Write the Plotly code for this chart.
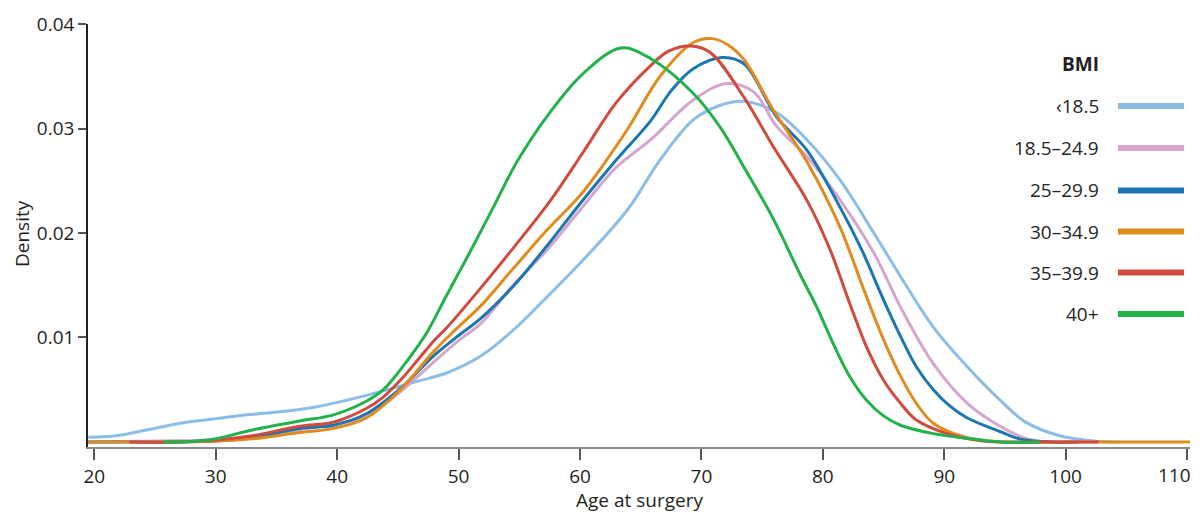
import plotly.graph_objects as go

# ---- data ----
series_names = ["‹18.5", "18.5–24.9", "25–29.9", "30–34.9", "35–39.9", "40+"]
series_colors = ["#8bbde6", "#d5a5cf", "#1a77b3", "#e08b1d", "#d04b3e", "#22b24c"]

age_lt18 = [19.5, 21.6, 24.3, 27.1, 29.8, 32.6, 35.3, 38.0, 40.8, 43.5, 46.3, 49.0, 51.8, 54.5, 57.3,
            60.0, 63.9, 66.6, 69.3, 71.5, 73.5, 76.2, 78.7, 81.4, 84.2, 86.9, 89.1, 91.9, 94.6, 96.7,
            99.5, 102.3, 104.5]
dens_lt18 = [0.00045, 0.00057, 0.00115, 0.0018, 0.0022, 0.0026, 0.0029, 0.0033, 0.0040, 0.0048, 0.0057,
             0.0066, 0.0082, 0.0107, 0.0139, 0.0171, 0.0222, 0.0270, 0.0308, 0.0322, 0.0326, 0.0315,
             0.0289, 0.0251, 0.0200, 0.0149, 0.0110, 0.0072, 0.0040, 0.0019, 0.0006, 0.0001, 0.0]

age_18_24 = [19.5, 25.0, 30.0, 33.0, 36.9, 39.7, 42.4, 45.2, 47.9, 50.1, 51.8, 54.5, 57.3, 60.0, 63.0,
             65.8, 69.3, 72.1, 74.3, 76.2, 78.7, 81.4, 84.2, 86.4, 89.1, 91.9, 94.6, 96.7, 98.5, 101.0]
dens_18_24 = [0.0, 0.0001, 0.0002, 0.0005, 0.0012, 0.0017, 0.0025, 0.0048, 0.0076, 0.0098, 0.0113,
              0.0150, 0.0184, 0.0222, 0.0263, 0.0289, 0.0327, 0.0343, 0.0335, 0.0302, 0.0273, 0.0232,
              0.0181, 0.0129, 0.0075, 0.0037, 0.0015, 0.00035, 0.0, 0.0]

age_25_29 = [19.5, 25.0, 30.0, 33.0, 36.9, 39.7, 42.4, 45.2, 47.9, 49.9, 51.8, 54.5, 57.3, 60.0, 63.0,
             65.8, 67.5, 69.3, 71.7, 73.5, 76.2, 78.7, 81.4, 83.2, 85.0, 86.4, 87.7, 89.1, 90.5, 91.9,
             94.6, 96.2, 99.0, 101.0]
dens_25_29 = [0.0, 0.0, 0.0001, 0.0004, 0.0013, 0.0016, 0.0027, 0.0051, 0.0082, 0.0101, 0.0118, 0.0149,
              0.0188, 0.0228, 0.0270, 0.0307, 0.0336, 0.0357, 0.0368, 0.0362, 0.0311, 0.0279, 0.0225,
              0.0184, 0.0136, 0.0101, 0.0072, 0.0050, 0.0034, 0.0023, 0.0010, 0.0003, 0.0, 0.0]

age_30_34 = [19.5, 25.0, 30.0, 33.0, 36.9, 39.7, 42.4, 45.2, 47.9, 49.7, 51.8, 54.5, 57.3, 60.3, 63.9,
             66.6, 69.3, 70.9, 72.2, 73.5, 75.9, 78.7, 81.4, 83.3, 85.0, 86.4, 87.7, 89.1, 91.9, 94.6,
             100.0, 105.0, 110.3]
dens_30_34 = [0.0, 0.0, 0.0001, 0.0003, 0.0009, 0.0013, 0.0023, 0.0050, 0.0086, 0.0107, 0.0130, 0.0166,
              0.0203, 0.0240, 0.0299, 0.0350, 0.0382, 0.0386, 0.0380, 0.0366, 0.0318, 0.0268, 0.0206,
              0.0148, 0.0098, 0.0063, 0.0037, 0.0018, 0.0004, 0.0, 0.0, 0.0, 0.0]

age_35_39 = [22.9, 27.0, 30.0, 33.0, 36.9, 39.7, 42.4, 43.8, 45.2, 46.6, 47.9, 49.0, 51.8, 54.6, 57.5,
             60.3, 63.0, 65.8, 67.3, 69.1, 70.7, 73.5, 75.9, 78.7, 80.6, 82.2, 83.6, 85.0, 86.4, 87.7,
             90.5, 93.2, 97.0, 102.7]
dens_35_39 = [0.0, 0.0, 0.0002, 0.0006, 0.0015, 0.0019, 0.0032, 0.0043, 0.0059, 0.0078, 0.0096, 0.0109,
              0.0147, 0.0187, 0.0230, 0.0278, 0.0325, 0.0360, 0.0374, 0.0379, 0.0373, 0.0330, 0.0283,
              0.0231, 0.0184, 0.0133, 0.0091, 0.0059, 0.0037, 0.0021, 0.0007, 0.0001, 0.0, 0.0]

age_40p = [25.7, 27.0, 29.8, 33.0, 36.9, 39.7, 42.4, 43.8, 45.2, 46.6, 47.5, 49.0, 50.95, 53.1, 54.8,
           57.5, 60.3, 63.4, 65.8, 69.3, 71.5, 73.7, 75.9, 78.1, 79.5, 80.9, 82.2, 83.6, 85.0, 86.4,
           89.1, 91.9, 94.6, 97.9]
dens_40p = [0.0, 0.0, 0.00026, 0.00115, 0.0020, 0.0026, 0.0039, 0.0050, 0.0069, 0.0091, 0.0107, 0.0140,
            0.0182, 0.0230, 0.0268, 0.0315, 0.0353, 0.0377, 0.0367, 0.0334, 0.0302, 0.0259, 0.0214,
            0.0161, 0.0129, 0.0093, 0.0063, 0.0040, 0.0025, 0.0016, 0.0008, 0.00035, 0.0, 0.0]

ages = [age_lt18, age_18_24, age_25_29, age_30_34, age_35_39, age_40p]
dens = [dens_lt18, dens_18_24, dens_25_29, dens_30_34, dens_35_39, dens_40p]

x_ticks = [20, 30, 40, 50, 60, 70, 80, 90, 100, 110]
x_tick_labels = ["20", "30", "40", "50", "60", "70", "80", "90", "100", "110"]
y_ticks = [0.01, 0.02, 0.03, 0.04]
y_tick_labels = ["0.01", "0.02", "0.03", "0.04"]
legend_title = "BMI"
x_title = "Age at surgery"
y_title = "Density"

# ---- layout constants ----
# the page body adds an 8 px margin, so the figure is sized/offset to compensate
OFF = 8
W, H = 1201 - OFF, 513 - OFF
PL, PR, PT, PB = 88, 1190, 24, 447          # plot area in page pixels
ML, MR, MT, MB = PL - OFF, W - (PR - OFF), PT - OFF, H - (PB - OFF)
FONT = "Open Sans"
TXT = "#231f20"
FS = 19

fig = go.Figure()
for name, col, xs, ys in zip(series_names, series_colors, ages, dens):
    fig.add_trace(go.Scatter(x=xs, y=ys, mode="lines", name=name,
                             line=dict(color=col, width=3, shape="spline", smoothing=1.0),
                             showlegend=False, hoverinfo="skip"))

pw = W - ML - MR
ph = H - MT - MB


def px_x(p):
    return (p - OFF - ML) / pw


def px_y(p):
    return 1 - (p - OFF - MT) / ph


txt_font = dict(family=FONT, size=FS, color=TXT)
annotations = [
    dict(text="<b>" + legend_title + "</b>", x=px_x(1101), y=px_y(64), xref="paper", yref="paper",
         xanchor="right", yanchor="middle", showarrow=False, font=txt_font),
    dict(text=x_title, x=px_x(639), y=px_y(500), xref="paper", yref="paper",
         xanchor="center", yanchor="middle", showarrow=False, font=txt_font),
    dict(text=y_title, x=px_x(22), y=px_y(234), xref="paper", yref="paper", textangle=-90,
         xanchor="center", yanchor="middle", showarrow=False, font=txt_font),
    # last x tick label sits at the page edge: right-aligned so it stays inside
    dict(text=x_tick_labels[-1], x=px_x(1193), y=px_y(475), xref="paper", yref="paper",
         xanchor="right", yanchor="middle", showarrow=False, font=txt_font),
]
shapes = []
row_y = [106, 148, 190.5, 231.5, 272.5, 314]
for name, col, ry in zip(series_names, series_colors, row_y):
    annotations.append(dict(text=name, x=px_x(1101), y=px_y(ry), xref="paper", yref="paper",
                            xanchor="right", yanchor="middle", showarrow=False, font=txt_font))
    shapes.append(dict(type="line", xref="paper", yref="paper", x0=px_x(1118), x1=px_x(1184),
                       y0=px_y(ry), y1=px_y(ry), line=dict(color=col, width=6)))

fig.update_layout(
    width=W, height=H,
    margin=dict(l=ML, r=MR, t=MT, b=MB, pad=0, autoexpand=False),
    plot_bgcolor="white", paper_bgcolor="white",
    font=txt_font,
    annotations=annotations, shapes=shapes,
    showlegend=False,
)
fig.update_xaxes(range=[19.48, 110.24], tickvals=x_ticks, ticktext=x_tick_labels[:-1] + [""],
                 ticks="outside", ticklen=11, tickwidth=1.5,
                 tickcolor="#555555", showline=True, linecolor="#8a8a8a", linewidth=2,
                 showgrid=False, zeroline=False, automargin=False,
                 tickfont=txt_font)
fig.update_yaxes(range=[-0.00048, 0.04], tickvals=y_ticks, ticktext=y_tick_labels, ticks="outside",
                 ticklen=8, tickwidth=1.5, tickcolor="#555555", showline=True, linecolor="#222222",
                 linewidth=1.5, showgrid=False, zeroline=False, automargin=False,
                 tickfont=txt_font)

fig.write_html("out.html")
